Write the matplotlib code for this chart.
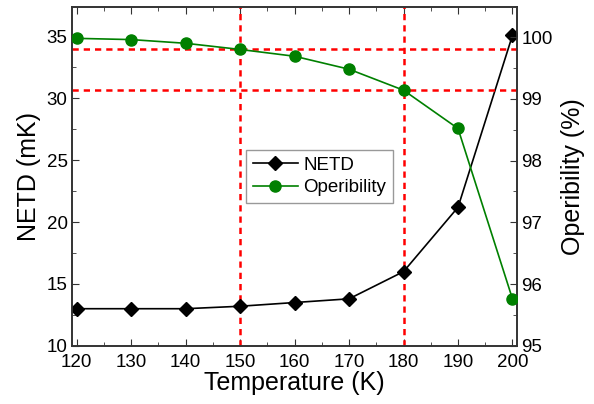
import matplotlib
matplotlib.use("Agg")
from matplotlib import pyplot as plt
from matplotlib.ticker import MultipleLocator

plt.rcParams['font.family'] = ['Liberation Sans', 'DejaVu Sans']

# data
temperature = [120, 130, 140, 150, 160, 170, 180, 190, 200]
netd = [13.0, 13.0, 13.0, 13.2, 13.5, 13.8, 16.0, 21.2, 35.1]
operability = [99.98, 99.96, 99.9, 99.8, 99.69, 99.48, 99.14, 98.52, 95.76]
marked_temps = [150, 180]
marked_oper = [99.8, 99.14]

fig, ax = plt.subplots(figsize=(5.94, 4.04), dpi=100)
fig.subplots_adjust(left=0.121, right=0.871, top=0.983, bottom=0.144)
ax2 = ax.twinx()

l1, = ax.plot(temperature, netd, color='black', marker='D', markersize=7, lw=1.2, label='NETD', zorder=3)
l2, = ax2.plot(temperature, operability, color='#008000', marker='o', markersize=8, lw=1.2, label='Operibility', zorder=3)

for t in marked_temps:
    ax.axvline(t, color='red', ls=(0, (2.5, 2)), lw=1.8, zorder=2)
for o in marked_oper:
    ax2.axhline(o, color='red', ls=(0, (2.5, 2)), lw=1.8, zorder=2)

ax.set_xlim(119.1, 200.9)
ax.set_ylim(10, 37.4)
ax2.set_ylim(95, 100.49)

ax.xaxis.set_major_locator(MultipleLocator(10))
ax.xaxis.set_minor_locator(MultipleLocator(5))
ax.yaxis.set_major_locator(MultipleLocator(5))
ax.yaxis.set_minor_locator(MultipleLocator(2.5))
ax2.yaxis.set_major_locator(MultipleLocator(1))
ax2.yaxis.set_minor_locator(MultipleLocator(0.5))

for a in (ax, ax2):
    for s in a.spines.values():
        s.set_color('#333333')
        s.set_linewidth(1.2)
    a.tick_params(which='both', direction='in', labelsize=13.5, color='#333333', pad=3)
    a.tick_params(which='major', length=5)
    a.tick_params(which='minor', length=3)
ax.tick_params(which='both', top=True)
ax.tick_params(axis='x', pad=6)

ax.set_xlabel('Temperature (K)', fontsize=18, labelpad=0)
ax.set_ylabel('NETD (mK)', fontsize=18, labelpad=4)
ax2.set_ylabel('Operibility (%)', fontsize=18, labelpad=6)

leg = ax2.legend(handles=[l1, l2], loc='upper left', bbox_to_anchor=(0.391, 0.578),
                 borderaxespad=0, fontsize=13.5, fancybox=False, edgecolor='#999999',
                 framealpha=1, handlelength=2.4, handletextpad=0.3, borderpad=0.35,
                 labelspacing=0.3)

plt.savefig("out.png", dpi=100)
